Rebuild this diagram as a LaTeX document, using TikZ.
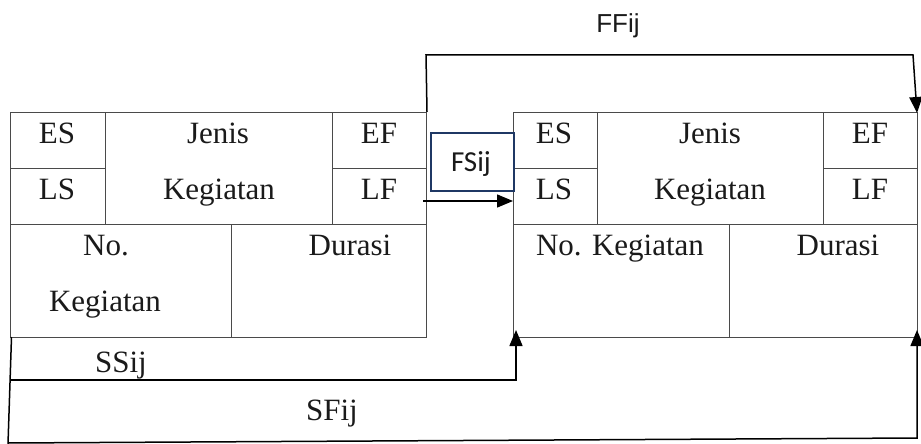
\documentclass[tikz,border=0pt]{standalone}
\usepackage{fontspec}
\setmainfont{Liberation Serif}
\newfontfamily\arialf{Liberation Sans}
\newfontfamily\calibrif{Carlito}
\usetikzlibrary{arrows.meta}
\definecolor{linegray}{HTML}{4A4A4A}
\definecolor{txt}{HTML}{1A1A1A}
\definecolor{navy}{HTML}{1F3864}
\begin{document}
\begin{tikzpicture}[x=1pt,y=-1pt,
  cell/.style={draw=linegray,line width=1pt,inner sep=0pt,anchor=north west,minimum width=#1},
  cellh/.style={minimum height=#1},
  lbl/.style={anchor=base,text=txt,inner sep=0pt,font=\fontsize{31}{37}\selectfont},
  conn/.style={draw=black,line width=1.5pt},
  arr/.style={-{Triangle[length=16pt,width=13pt]}},
  fsbox/.style={draw=navy,line width=1.6pt,inner sep=0pt,anchor=north west,minimum width=83pt,minimum height=58pt}]
\useasboundingbox (0,0) rectangle (921,444);
% left activity box
\node[cell=95pt,cellh=56pt] (Les) at (10,112) {};
\node[cell=95pt,cellh=56pt] (Lls) at (10,168) {};
\node[cell=227pt,cellh=112pt] (Ljk) at (105,112) {};
\node[cell=94pt,cellh=56pt] (Lef) at (332,112) {};
\node[cell=94pt,cellh=56pt] (Llf) at (332,168) {};
\node[cell=221pt,cellh=113pt] (Lno) at (10,224) {};
\node[cell=195pt,cellh=113pt] (Ldu) at (231,224) {};
% right activity box
\node[cell=84pt,cellh=56pt] (Res) at (513,112) {};
\node[cell=84pt,cellh=56pt] (Rls) at (513,168) {};
\node[cell=226pt,cellh=112pt] (Rjk) at (597,112) {};
\node[cell=94pt,cellh=56pt] (Ref) at (823,112) {};
\node[cell=94pt,cellh=56pt] (Rlf) at (823,168) {};
\node[cell=216pt,cellh=113pt] (Rno) at (513,224) {};
\node[cell=188pt,cellh=113pt] (Rdu) at (729,224) {};
% texts left
\node[lbl] (tLes) at (57,143) {ES};
\node[lbl] (tLls) at (57,199) {LS};
\node[lbl] (tLj1) at (218,143) {Jenis};
\node[lbl] (tLj2) at (219,199) {Kegiatan};
\node[lbl] (tLef) at (379,143) {EF};
\node[lbl] (tLlf) at (379,199) {LF};
\node[lbl] (tLn1) at (106,255) {No.};
\node[lbl] (tLn2) at (105,311) {Kegiatan};
\node[lbl] (tLdu) at (350,255) {Durasi};
% texts right
\node[lbl] (tRes) at (554,143) {ES};
\node[lbl] (tRls) at (554,199) {LS};
\node[lbl] (tRj1) at (710,143) {Jenis};
\node[lbl] (tRj2) at (710,199) {Kegiatan};
\node[lbl] (tRef) at (870,143) {EF};
\node[lbl] (tRlf) at (870,199) {LF};
\node[lbl] (tRno) at (620,255) {No. Kegiatan};
\node[lbl] (tRdu) at (838,255) {Durasi};
% FS box
\node[fsbox] (fs) at (430,132) {};
\node[anchor=base,inner sep=0pt,text=txt,font=\calibrif\fontsize{29}{35}\selectfont] (fst) at (471,171) {FSij};
% connector coordinates
\coordinate (ff1) at (426,55);
\coordinate (ff2) at (913,55);
\coordinate (ffT) at (917,113);
\coordinate (fs0) at (423,201);
\coordinate (fsT) at (513,201);
\coordinate (sfa) at (11.5,337);
\coordinate (sfb) at (8,444);
\coordinate (sfc) at (8,443);
\coordinate (sfd) at (917,438);
\coordinate (sfT) at (917,330);
\coordinate (ssa) at (11,380);
\coordinate (ssb) at (516,380);
\coordinate (ssT) at (516,330);
% connectors
\draw[conn,arr] (Lef.north east) -- (ff1) -- (ff2) -- (ffT);
\draw[conn,arr] (fs0) -- (fsT);
\draw[conn] (sfa) -- (sfb);
\draw[conn,arr] (ssa) -- (ssb) -- (ssT);
\draw[conn,arr] (sfc) -- (sfd) -- (sfT);
% connector labels
\node[anchor=base,inner sep=0pt,text=txt,font=\arialf\fontsize{26}{32}\selectfont] (ffl) at (618,33) {FFij};
\node[lbl] (ssl) at (121,372) {SSij};
\node[lbl] (sfl) at (332,420) {SFij};
\end{tikzpicture}
\end{document}
